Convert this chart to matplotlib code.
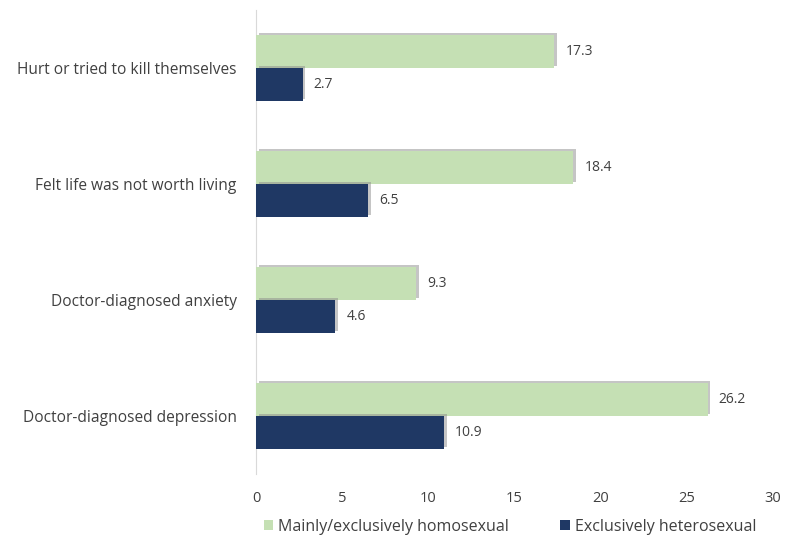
import matplotlib
matplotlib.use("Agg")
import matplotlib.pyplot as plt
import matplotlib.patheffects as pe
import numpy as np

categories = ["Hurt or tried to kill themselves", "Felt life was not worth living",
              "Doctor-diagnosed anxiety", "Doctor-diagnosed depression"]
homosexual = [17.3, 18.4, 9.3, 26.2]
heterosexual = [2.7, 6.5, 4.6, 10.9]
series_names = ["Mainly/exclusively homosexual", "Exclusively heterosexual"]
xticks = [0, 5, 10, 15, 20, 25, 30]

plt.rcParams['font.family'] = ['Open Sans', 'DejaVu Sans']
green = "#C5E0B4"
navy = "#1F3864"

fig = plt.figure(figsize=(7.99, 5.38), dpi=100)
ax = fig.add_axes([256/799, 1-474/538, (773-256)/799, 464/538])

y = np.arange(len(categories))
h = 0.285
shadow = [pe.SimplePatchShadow(offset=(2, 1.5), shadow_rgbFace="#8c8c8c", alpha=0.5), pe.Normal()]
b1 = ax.barh(y - h/2, homosexual, height=h, color=green, label=series_names[0], zorder=3)
b2 = ax.barh(y + h/2, heterosexual, height=h, color=navy, label=series_names[1], zorder=3)
for bars in (b1, b2):
    for p in bars:
        p.set_path_effects(shadow)

for yi, v in zip(y, homosexual):
    ax.text(v + 0.65, yi - h/2, f"{v}", va="center", ha="left", fontsize=10, color="#404040")
for yi, v in zip(y, heterosexual):
    ax.text(v + 0.65, yi + h/2, f"{v}", va="center", ha="left", fontsize=10, color="#404040")

ax.set_ylim(3.5, -0.5)
ax.set_xlim(0, 30)
ax.set_xticks(xticks)
ax.set_yticks(y)
ax.set_yticklabels(categories, fontsize=11.2)
ax.tick_params(axis="both", length=0, colors="#404040")
ax.tick_params(axis="x", pad=12, labelsize=10.5)
ax.tick_params(axis="y", pad=14)
for s in ["top", "right", "bottom"]:
    ax.spines[s].set_visible(False)
ax.spines["left"].set_color("#d9d9d9")

leg = fig.legend(handles=[b1, b2], loc="center", bbox_to_anchor=(510/799, 1-527/538),
                 ncol=2, frameon=False, fontsize=11.5, handlelength=0.6, handleheight=0.6,
                 handletextpad=0.3, columnspacing=3.2, labelcolor="#404040")
for hnd in leg.legend_handles:
    hnd.set_path_effects([])

fig.savefig("out.png", dpi=100)
